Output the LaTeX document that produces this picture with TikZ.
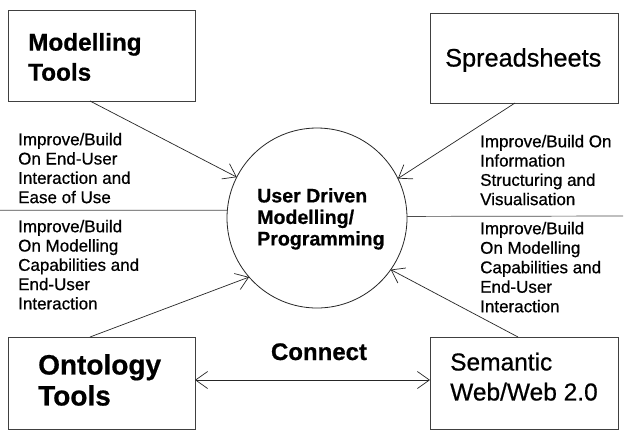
\documentclass[tikz,border=0pt]{standalone}
\usepackage{fontspec}
\setmainfont{Liberation Sans}[FakeBold=0.6]
\usetikzlibrary{arrows.meta}
\begin{document}
\begin{tikzpicture}[x=1pt,y=-1pt,
  box/.style={draw=black!75,line width=1pt,inner sep=0pt,outer sep=0pt},
  lbl/.style={anchor=north west,inner sep=0pt,align=left,font=\fontsize{17}{19.3}\selectfont},
  conn/.style={line width=0.7pt,draw=black!85},
  arr/.style={conn,-{Straight Barb[length=12pt,width=17pt]}},
  darr/.style={conn,{Straight Barb[length=12pt,width=17pt]}-{Straight Barb[length=12pt,width=17pt]}}]
\fill[white] (0,0) rectangle (636,437);
\useasboundingbox (0,0) rectangle (636,437);

% boxes
\node[box,minimum width=187pt,minimum height=91pt] (mt) at (101.5,55.5) {};
\node[box,minimum width=188pt,minimum height=90pt] (ss) at (524,58) {};
\node[box,minimum width=187pt,minimum height=92pt] (ot) at (101.5,383) {};
\node[box,minimum width=188pt,minimum height=92pt] (sw) at (524,383) {};

% box texts
\node[anchor=north west,inner sep=0pt,align=left,font=\fontsize{24.3}{30}\selectfont\bfseries] (mtt) at (28,32.8) {Modelling\\Tools};
\node[anchor=north west,inner sep=0pt,font=\fontsize{25.3}{30}\selectfont] (sst) at (445,48) {Spreadsheets};
\node[anchor=north west,inner sep=0pt,align=left,font=\fontsize{28}{31}\selectfont\bfseries] (ott) at (38,354) {Ontology\\Tools};
\node[anchor=north west,inner sep=0pt,align=left,font=\fontsize{24.5}{30}\selectfont] (swt) at (450,352.5) {Semantic\\Web/Web 2.0};

% circle
\node[circle,draw=black!85,line width=0.8pt,minimum size=180pt,inner sep=0pt,outer sep=0pt] (c) at (317,218) {};
\node[anchor=north west,inner sep=0pt,align=left,font=\fontsize{19.6}{21.5}\selectfont\bfseries] (ct) at (257,188) {User Driven\\Modelling/\\Programming};

% labels
\node[lbl] (l1) at (18,132.7) {Improve/Build\\On End-User\\Interaction and\\Ease of Use};
\node[lbl] (l2) at (480,134.7) {Improve/Build On\\Information\\Structuring and\\Visualisation};
\node[lbl,font=\fontsize{17}{19.3}\selectfont] (l3) at (18,219.7) {Improve/Build\\On Modelling\\Capabilities and\\End-User\\Interaction};
\node[lbl,font=\fontsize{17}{19.5}\selectfont] (l4) at (480,221.7) {Improve/Build\\On Modelling\\Capabilities and\\End-User\\Interaction};

\node[anchor=base,inner sep=0pt,font=\fontsize{24}{28}\selectfont\bfseries] (cn) at (319,360) {Connect};

% separator lines
\coordinate (lend) at (0,210.2);
\coordinate (rend) at (623,216);
\draw[conn,draw=black!70] (lend) -- (c.175);
\draw[conn,draw=black!70] (c.1.3) -- (rend);

% arrows
\draw[arr] ([xshift=-11.5pt]mt.south) -- (c.153.4);
\draw[arr] ([xshift=-9pt]ss.south) -- (c.26.9);
\draw[arr] ([xshift=-11.5pt]ot.north) -- (c.221);
\draw[arr] ([xshift=-6pt]sw.north) -- (c.325.4);
\draw[darr] ([yshift=3pt]ot.east) -- ([yshift=3pt]sw.west);
\end{tikzpicture}
\end{document}
